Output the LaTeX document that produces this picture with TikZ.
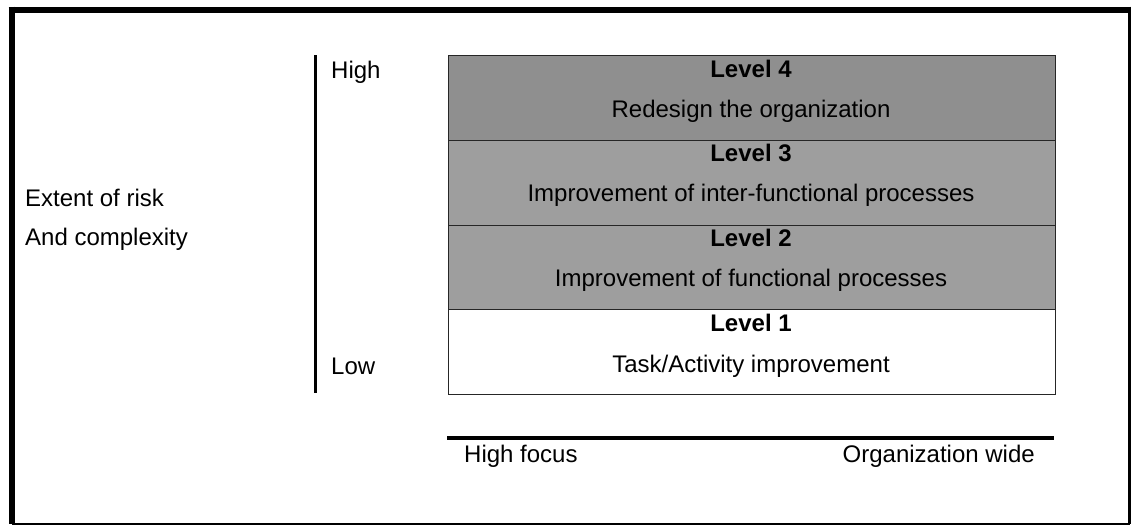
\documentclass[tikz,border=0pt]{standalone}
\usepackage{fontspec}
\setmainfont{Liberation Sans}
\begin{document}
\begin{tikzpicture}[x=1pt,y=-1pt,
  txt/.style={font=\fontsize{24}{28}\selectfont, inner sep=0pt},
  lbl/.style={txt, anchor=base west},
  lvl/.style={txt, font=\fontsize{24}{28}\selectfont\bfseries, anchor=base},
  desc/.style={txt, anchor=base},
  band/.style={draw=black!85, line width=1.2pt, minimum width=607pt, minimum height=84.75pt, inner sep=0pt, anchor=north west},
  shaded/.style={band, fill=black!38},
  axis/.style={line width=3.5pt},
  frame/.style={line width=6pt}]
\useasboundingbox (0,0) rectangle (1131,525);
% frame
\coordinate (f1) at (8.5,9.5);
\coordinate (f2) at (1131,9.5);
\coordinate (f3) at (11.5,6.5);
\coordinate (f4) at (11.5,524);
\coordinate (f5) at (1129.5,6.5);
\coordinate (f6) at (1129.5,524);
\draw[frame] (f1) -- (f2);
\draw[frame] (f3) -- (f4);
\draw[line width=3.5pt] (f5) -- (f6);
\draw[line width=1.5pt] (f4) -- (f6);
% bands
\node[shaded, fill=black!44] (r4) at (447.5,55) {};
\node[shaded] (r3) at (447.5,139.75) {};
\node[shaded] (r2) at (447.5,224.5) {};
\node[band] (r1) at (447.5,309.25) {};
% band texts
\node[lvl] (l4) at (751,77) {Level 4};
\node[desc] (d4) at (751,117) {Redesign the organization};
\node[lvl] (l3) at (751,161.75) {Level 3};
\node[desc] (d3) at (751,201.75) {Improvement of inter-functional processes};
\node[lvl] (l2) at (751,246.5) {Level 2};
\node[desc] (d2) at (751,286.5) {Improvement of functional processes};
\node[lvl] (l1) at (751,331.5) {Level 1};
\node[desc] (d1) at (751,372) {Task/Activity improvement};
% axes
\coordinate (vt) at (315,55);
\coordinate (vb) at (315,393);
\draw[line width=3pt] (vt) -- (vb);
\coordinate (ha) at (447,438);
\coordinate (hb) at (1054,438);
\draw[axis] (ha) -- (hb);
% labels
\node[lbl] (high) at (331,78) {High};
\node[lbl] (low) at (331,374) {Low};
\node[lbl] (ext) at (25,206) {Extent of risk};
\node[lbl] (cmp) at (25,245) {And complexity};
\node[lbl] (hf) at (464,462) {High focus};
\node[txt, anchor=base east] (ow) at (1035,462) {Organization wide};
\end{tikzpicture}
\end{document}
